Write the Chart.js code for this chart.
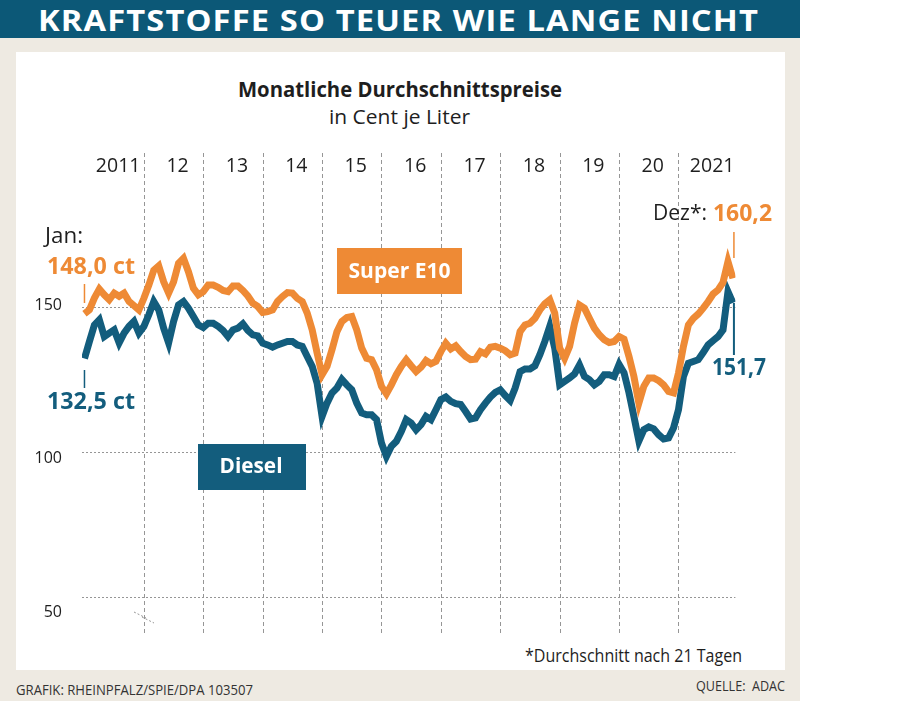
<!DOCTYPE html>
<html lang="de">
<head>
<meta charset="utf-8">
<title>Kraftstoffe so teuer wie lange nicht</title>
<script src="https://cdn.jsdelivr.net/npm/chart.js@4.4.1/dist/chart.umd.min.js"></script>
<style>
  body { margin:0; width:922px; height:701px; background:#fff; overflow:hidden; position:relative; font-family:"Open Sans", sans-serif; }
  #frame { position:absolute; left:0; top:0; width:800px; height:701px; background:#eeeae2; }
  #bar { position:absolute; left:0; top:0; width:800px; height:38px; background:#0c5877; }
  #panel { position:absolute; left:16px; top:52px; width:769px; height:618px; background:#fff; }
  .t { position:absolute; white-space:nowrap; line-height:1; transform-origin:0 0; color:#1e1e1e; }
  #title { left:38px; top:5px; font-size:29px; font-weight:700; color:#fff; letter-spacing:1px; }
  #sub1 { left:238px; top:77px; font-size:22px; font-weight:700; }
  #sub2 { left:329px; top:107px; font-size:20px; }
  #note { left:525px; top:646px; font-size:18px; }
  #credit { left:16px; top:683px; font-size:14px; color:#333; }
  #source { left:696px; top:679px; font-size:14px; color:#333; }
  canvas { position:absolute; left:0; top:0; }
</style>
</head>
<body>
<div id="frame"></div>
<div id="bar"></div>
<div id="panel"></div>
<div class="t" id="title" data-w="721">KRAFTSTOFFE SO TEUER WIE LANGE NICHT</div>
<div class="t" id="sub1" data-w="324">Monatliche Durchschnittspreise</div>
<div class="t" id="sub2" data-w="141">in Cent je Liter</div>
<div class="t" id="note" data-w="217">*Durchschnitt nach 21 Tagen</div>
<div class="t" id="credit" data-w="237">GRAFIK: RHEINPFALZ/SPIE/DPA 103507</div>
<div class="t" id="source" data-w="89">QUELLE:&nbsp;&nbsp;ADAC</div>
<canvas id="chart" width="922" height="701"></canvas>
<script>
// ---- Daten: Monatswerte Jan 2011 bis Dez 2021 (Cent je Liter) ----
const years = ["2011", "12", "13", "14", "15", "16", "17", "18", "19", "20", "2021"];
const yTicks = [50, 100, 150];

const superE10 = [
  148.0, 149.3, 153.4, 156.5, 154.5, 152.8, 155.1, 154.0, 155.1, 152.2, 150.8, 149.3,
  153.3, 157.9, 163.0, 164.5, 159.0, 155.1, 159.0, 165.4, 167.1, 162.5, 156.8, 154.5,
  155.6, 157.9, 157.9, 157.1, 156.0, 155.6, 157.6, 157.6, 156.0, 154.1, 151.6, 150.5,
  148.4, 148.7, 149.3, 152.2, 153.9, 155.3, 155.1, 153.3, 152.2, 148.2, 142.4, 134.4,
  126.9, 129.8, 135.5, 141.8, 145.3, 146.7, 147.0, 142.4, 136.1, 132.6, 132.1, 128.6,
  122.9, 120.3, 123.4, 126.9, 129.8, 132.1, 130.0, 128.0, 129.5, 131.8, 130.7, 131.5,
  134.9, 137.8, 135.8, 136.9, 134.9, 133.2, 132.1, 132.3, 134.9, 134.1, 136.4, 136.7,
  136.1, 135.2, 133.8, 134.4, 141.8, 144.1, 144.7, 146.4, 149.3, 151.4, 152.8, 148.2,
  136.1, 132.6, 136.7, 144.7, 151.0, 149.9, 146.4, 143.0, 140.7, 139.0, 138.0, 138.4,
  140.1, 139.2, 133.2, 126.3, 117.1, 122.9, 125.8, 125.8, 124.9, 123.4, 121.1, 120.6,
  127.5, 136.7, 144.1, 146.4, 147.9, 149.9, 152.2, 154.8, 156.2, 158.8, 166.0, 160.2
];

const diesel = [
  132.5, 138.4, 144.1, 145.9, 140.1, 141.3, 142.4, 137.9, 141.3, 143.6, 145.3, 141.3,
  143.6, 147.6, 152.2, 149.3, 143.0, 137.9, 145.3, 151.0, 152.2, 149.9, 147.0, 144.1,
  143.2, 144.7, 144.7, 143.6, 142.2, 140.1, 142.4, 143.0, 144.5, 142.2, 140.7, 140.3,
  137.8, 137.2, 136.4, 137.2, 137.8, 138.4, 138.4, 137.2, 136.7, 133.2, 129.8, 124.0,
  112.5, 117.1, 120.6, 122.3, 125.3, 123.4, 121.7, 117.1, 113.7, 113.1, 113.1, 111.4,
  103.3, 98.7, 102.2, 103.9, 107.3, 111.4, 110.2, 107.9, 109.7, 112.5, 111.4, 114.8,
  118.3, 119.2, 117.7, 116.9, 116.6, 114.2, 111.6, 112.0, 114.8, 117.1, 119.2, 120.8,
  121.7, 119.7, 118.0, 122.3, 128.0, 128.9, 128.9, 130.0, 133.8, 138.4, 143.6, 136.1,
  123.4, 124.6, 125.8, 127.2, 130.3, 126.3, 125.2, 123.4, 124.6, 126.9, 126.9, 126.3,
  130.5, 127.6, 120.7, 112.5, 104.0, 107.9, 108.9, 108.2, 106.2, 104.7, 105.1, 108.5,
  114.8, 126.3, 130.9, 131.5, 132.1, 134.6, 137.2, 138.7, 140.1, 142.4, 155.6, 151.7
];

const ORANGE = "#ee8a35";
const TEAL = "#135d7d";
const INK = "#1e1e1e";
const GRID = "#969696";
const FONT = '"Open Sans", sans-serif';

// ---- HTML-Texte auf Breite bringen ----
document.querySelectorAll("[data-w]").forEach((el) => {
  const w = el.getBoundingClientRect().width;
  el.style.transform = "scaleX(" + (el.dataset.w / w) + ")";
});

// Text auf dem Canvas, optional auf Breite gestaucht
function fitText(ctx, txt, x, y, w, font, color, align) {
  ctx.save();
  ctx.font = font;
  ctx.fillStyle = color;
  ctx.textBaseline = "middle";
  ctx.textAlign = "left";
  const nat = ctx.measureText(txt).width;
  const k = w ? w / nat : 1;
  let x0 = x;
  if (align === "center") x0 = x - (nat * k) / 2;
  if (align === "right") x0 = x - nat * k;
  ctx.translate(x0, y);
  ctx.scale(k, 1);
  ctx.fillText(txt, 0, 0);
  ctx.restore();
}

function vline(ctx, x, y1, y2, color, w, dash) {
  ctx.save();
  ctx.strokeStyle = color;
  ctx.lineWidth = w;
  if (dash) ctx.setLineDash(dash);
  ctx.beginPath();
  ctx.moveTo(x, y1);
  ctx.lineTo(x, y2);
  ctx.stroke();
  ctx.restore();
}

const yearStarts = years.slice(1).map((y, k) => (k + 1) * 12);

// ---- gestrichelte Jahreslinien (hinter den Kurven) ----
const yearGrid = {
  id: "yearGrid",
  beforeDatasetsDraw(chart) {
    const { ctx, chartArea } = chart;
    const xs = chart.scales.x;
    yearStarts.forEach((v) => {
      const px = Math.round(xs.getPixelForValue(v)) + 0.5;
      vline(ctx, px, chartArea.top, chartArea.bottom, GRID, 1, [4, 3]);
    });
  }
};

// ---- Beschriftungen im Diagramm ----
const labelsPlugin = {
  id: "labels",
  afterDraw(chart) {
    const ctx = chart.ctx;
    const xs = chart.scales.x;
    const ys = chart.scales.y;
    const last = superE10.length - 1;

    // Jahre oben
    years.forEach((yr, k) => {
      fitText(ctx, yr, xs.getPixelForValue(k * 12 + 6.8), 166, null, "19.5px " + FONT, INK, "center");
    });

    // y-Beschriftung (leicht versetzt wie im Original)
    const nudge = { 50: 15, 100: 6, 150: -2 };
    yTicks.forEach((v) => {
      fitText(ctx, String(v), 62, ys.getPixelForValue(v) + nudge[v], null, "16px " + FONT, INK, "right");
    });

    // Startwerte
    fitText(ctx, "Jan:", 45, 237, 38, "21px " + FONT, INK, "left");
    fitText(ctx, "148,0 ct", 47, 267, 88, "bold 24px " + FONT, ORANGE, "left");
    fitText(ctx, "132,5 ct", 47, 402, 88, "bold 24px " + FONT, TEAL, "left");
    const x0 = xs.getPixelForValue(0);
    vline(ctx, x0, 284, 303, ORANGE, 1.5);
    vline(ctx, x0, 370, 388, TEAL, 1.5);

    // Endwerte
    const xe = xs.getPixelForValue(last);
    fitText(ctx, "Dez*:", 653, 214, 54, "22px " + FONT, INK, "left");
    fitText(ctx, "160,2", 713, 214, 59, "bold 24px " + FONT, ORANGE, "left");
    vline(ctx, xe + 1, 232, 258, ORANGE, 1.5);
    fitText(ctx, "151,7", 712, 368, 54, "bold 24px " + FONT, TEAL, "left");
    vline(ctx, xe + 1, ys.getPixelForValue(diesel[last]), 355, TEAL, 2);

    // Legendenkästen
    ctx.fillStyle = ORANGE;
    ctx.fillRect(337, 248, 125, 46);
    fitText(ctx, "Super E10", 399.5, 272, 102, "bold 22px " + FONT, "#fff", "center");
    ctx.fillStyle = TEAL;
    ctx.fillRect(198, 444, 108, 46);
    fitText(ctx, "Diesel", 251, 467, 63, "bold 22px " + FONT, "#fff", "center");

    // Achsenbruch
    ctx.save();
    ctx.strokeStyle = GRID;
    ctx.lineWidth = 1;
    ctx.setLineDash([2, 2]);
    ctx.beginPath();
    ctx.moveTo(134, 612);
    ctx.lineTo(146, 618);
    ctx.moveTo(142, 617);
    ctx.lineTo(154, 623);
    ctx.stroke();
    ctx.restore();
  }
};

const points = (arr) => arr.map((v, i) => ({ x: i, y: v }));

new Chart(document.getElementById("chart"), {
  type: "line",
  data: {
    datasets: [
      {
        label: "Super E10",
        data: points(superE10),
        borderColor: ORANGE,
        borderWidth: 7,
        borderJoinStyle: "miter",
        pointRadius: 0,
        tension: 0,
      },
      {
        label: "Diesel",
        data: points(diesel),
        borderColor: TEAL,
        borderWidth: 7,
        borderJoinStyle: "miter",
        pointRadius: 0,
        tension: 0,
      },
    ],
  },
  options: {
    responsive: false,
    animation: false,
    devicePixelRatio: 1,
    events: [],
    layout: { padding: { left: 16, right: 186.6, top: 153, bottom: 66 } },
    plugins: { legend: { display: false }, tooltip: { enabled: false } },
    scales: {
      x: {
        type: "linear",
        min: -0.5,
        max: 131.5,
        grid: { display: false },
        border: { display: false },
        ticks: { display: false },
        afterFit: (s) => { s.height = 0; },
      },
      y: {
        min: 37,
        max: 203.5,
        grid: { color: GRID, lineWidth: 1, drawTicks: false },
        border: { display: false, dash: [2, 2] },
        ticks: { display: false },
        afterBuildTicks: (s) => { s.ticks = yTicks.map((v) => ({ value: v })); },
        afterFit: (s) => { s.width = 66; },
      },
    },
  },
  plugins: [yearGrid, labelsPlugin],
});
</script>
</body>
</html>
